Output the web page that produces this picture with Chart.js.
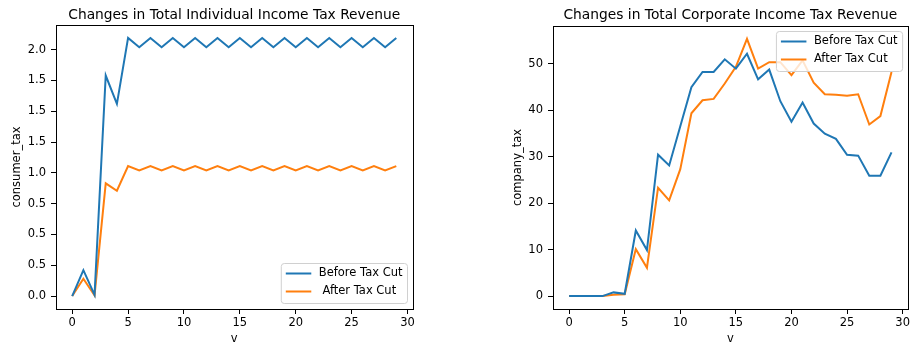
<!DOCTYPE html>
<html>
<head>
<meta charset="utf-8">
<script src="https://cdn.jsdelivr.net/npm/chart.js@4/dist/chart.umd.min.js"></script>
<style>
  html, body { margin: 0; padding: 0; background: #fff; overflow: hidden; }
  #wrap { position: relative; width: 912px; height: 349px; background: #fff; }
  canvas { position: absolute; top: 0; }
</style>
</head>
<body>
<div id="wrap">
  <canvas id="individual" width="470" height="349" style="left:0"></canvas>
  <canvas id="corporate" width="442" height="349" style="left:470px"></canvas>
</div>
<script>
// Simulation periods (x axis "v")
const periods = [0, 1, 2, 3, 4, 5, 6, 7, 8, 9, 10, 11, 12, 13, 14, 15, 16, 17, 18, 19, 20, 21, 22, 23, 24, 25, 26, 27, 28, 29];

// Individual income tax revenue
const individualBefore = [0, 0.21, 0.01, 1.79, 1.56, 2.095, 2.02, 2.095, 2.02, 2.095,
  2.02, 2.095, 2.02, 2.095, 2.02, 2.095, 2.02, 2.095, 2.02, 2.095,
  2.02, 2.095, 2.02, 2.095, 2.02, 2.095, 2.02, 2.095, 2.02, 2.095];
const individualAfter = [0, 0.14, 0.005, 0.915, 0.855, 1.055, 1.02, 1.055, 1.02, 1.055,
  1.02, 1.055, 1.02, 1.055, 1.02, 1.055, 1.02, 1.055, 1.02, 1.055,
  1.02, 1.055, 1.02, 1.055, 1.02, 1.055, 1.02, 1.055, 1.02, 1.055];

// Corporate income tax revenue
const corporateBefore = [0, 0, 0, 0, 0.8, 0.5, 14.1, 9.9, 30.4, 28.1,
  36.5, 44.9, 48.2, 48.2, 50.9, 48.9, 52.1, 46.6, 48.7, 41.9,
  37.5, 41.6, 37.1, 34.9, 33.8, 30.4, 30.2, 25.9, 25.9, 30.9];
const corporateAfter = [0, 0, 0, 0, 0.3, 0.4, 10.1, 6.1, 23.3, 20.6,
  27.3, 39.3, 42.1, 42.4, 45.7, 49.3, 55.3, 48.9, 50.3, 50.3,
  47.5, 50.7, 45.9, 43.4, 43.3, 43.1, 43.4, 36.9, 38.7, 48.2];

// Tick values and their labels
const xTickValues = [0, 5, 10, 15, 20, 25, 30];
const xTickLabels = ['0', '5', '10', '15', '20', '25', '30'];
const individualTickValues = [0, 0.25, 0.5, 0.75, 1.0, 1.25, 1.5, 1.75, 2.0];
const individualTickLabels = ['0.0', '0.5', '0.5', '0.5', '1.0', '1.5', '1.5', '1.5', '2.0'];
const corporateTickValues = [0, 10, 20, 30, 40, 50];
const corporateTickLabels = ['0', '10', '20', '30', '40', '50'];

const BLUE = '#1f77b4';
const ORANGE = '#ff7f0e';
const FONT = '"DejaVu Sans", "Liberation Sans", sans-serif';
const TICK_SIZE = 11.5;

// Box around the plotting area
const framePlugin = {
  id: 'frame',
  afterDraw(chart) {
    const { ctx, chartArea: a } = chart;
    ctx.save();
    ctx.strokeStyle = '#000';
    ctx.lineWidth = 1;
    const l = Math.round(a.left) + 0.5, t = Math.round(a.top) + 0.5;
    ctx.strokeRect(l, t, Math.round(a.right) - Math.round(a.left), Math.round(a.bottom) - Math.round(a.top));
    ctx.restore();
  }
};

// Title centred over the plotting area
const panelTitle = {
  id: 'panelTitle',
  afterDraw(chart, args, opts) {
    const { ctx, chartArea: a } = chart;
    ctx.save();
    ctx.font = `13.8px ${FONT}`;
    ctx.fillStyle = '#000';
    ctx.textAlign = 'center';
    ctx.textBaseline = 'alphabetic';
    ctx.fillText(opts.text, (a.left + a.right) / 2, opts.y);
    ctx.restore();
  }
};

// Legend drawn inside the plotting area
const insetLegend = {
  id: 'insetLegend',
  afterDraw(chart, args, opts) {
    const { ctx, chartArea: a } = chart;
    ctx.save();
    ctx.font = `${TICK_SIZE}px ${FONT}`;
    const sets = chart.data.datasets;
    const textW = Math.max(...sets.map(d => ctx.measureText(d.label).width));
    const w = 4.5 + 25.5 + 7.5 + textW + 5;
    const h = 40;
    const x = a.right - 5 - w;
    const y = opts.corner === 'upper' ? a.top + 5.5 : a.bottom - 5.5 - h;
    const r = 3;
    ctx.beginPath();
    ctx.moveTo(x + r, y);
    ctx.lineTo(x + w - r, y);
    ctx.arcTo(x + w, y, x + w, y + r, r);
    ctx.lineTo(x + w, y + h - r);
    ctx.arcTo(x + w, y + h, x + w - r, y + h, r);
    ctx.lineTo(x + r, y + h);
    ctx.arcTo(x, y + h, x, y + h - r, r);
    ctx.lineTo(x, y + r);
    ctx.arcTo(x, y, x + r, y, r);
    ctx.closePath();
    ctx.fillStyle = 'rgba(255,255,255,0.8)';
    ctx.fill();
    ctx.strokeStyle = '#d0d0d0';
    ctx.lineWidth = 1;
    ctx.stroke();
    sets.forEach((d, i) => {
      const cy = y + 10 + i * 18;
      ctx.strokeStyle = d.borderColor;
      ctx.lineWidth = 2;
      ctx.beginPath();
      ctx.moveTo(x + 4.5, cy);
      ctx.lineTo(x + 30, cy);
      ctx.stroke();
      ctx.fillStyle = '#000';
      ctx.textAlign = 'left';
      ctx.textBaseline = 'middle';
      ctx.fillText(d.label, x + 37.5, cy);
    });
    ctx.restore();
  }
};

function series(label, values, color) {
  return {
    label,
    data: periods.map((p, i) => ({ x: p, y: values[i] })),
    borderColor: color,
    backgroundColor: color,
    borderWidth: 2,
    pointRadius: 0,
    pointHoverRadius: 0,
    tension: 0,
    fill: false
  };
}

const tickGrid = { display: true, drawOnChartArea: false, drawTicks: true, tickLength: 5, color: '#000', lineWidth: 1 };

function makeChart(id, cfg) {
  return new Chart(document.getElementById(id), {
    type: 'line',
    data: {
      datasets: [
        series('Before Tax Cut', cfg.before, BLUE),
        series(cfg.afterLabel, cfg.after, ORANGE)
      ]
    },
    options: {
      responsive: false,
      animation: false,
      events: [],
      layout: { padding: cfg.padding },
      scales: {
        x: {
          type: 'linear',
          min: -1.45,
          max: 30.45,
          afterBuildTicks: s => { s.ticks = xTickValues.map(v => ({ value: v })); },
          afterFit: s => { s.height = 40; },
          grid: tickGrid,
          border: { display: false },
          ticks: {
            font: { family: FONT, size: TICK_SIZE },
            color: '#000',
            padding: 2,
            maxRotation: 0,
            autoSkip: false,
            callback: (v, i) => xTickLabels[i]
          },
          title: {
            display: true,
            text: 'v',
            color: '#000',
            font: { family: FONT, size: TICK_SIZE },
            padding: { top: 0, bottom: 3.1 }
          }
        },
        y: {
          type: 'linear',
          min: cfg.yMin,
          max: cfg.yMax,
          afterBuildTicks: s => { s.ticks = cfg.tickValues.map(v => ({ value: v })); },
          afterFit: s => { s.width = cfg.yWidth; },
          grid: tickGrid,
          border: { display: false },
          ticks: {
            font: { family: FONT, size: TICK_SIZE },
            color: '#000',
            padding: 5,
            autoSkip: false,
            callback: (v, i) => cfg.tickLabels[i]
          },
          title: {
            display: true,
            text: cfg.yTitle,
            color: '#000',
            font: { family: FONT, size: TICK_SIZE },
            padding: { top: cfg.yTitlePad, bottom: 0 }
          }
        }
      },
      plugins: {
        legend: { display: false },
        tooltip: { enabled: false },
        panelTitle: { text: cfg.title, y: 18.5 },
        insetLegend: { corner: cfg.legendCorner }
      }
    },
    plugins: [framePlugin, panelTitle, insetLegend]
  });
}

makeChart('individual', {
  title: 'Changes in Total Individual Income Tax Revenue',
  before: individualBefore,
  after: individualAfter,
  afterLabel: ' After Tax Cut',
  yMin: -0.105,
  yMax: 2.2,
  tickValues: individualTickValues,
  tickLabels: individualTickLabels,
  yTitle: 'consumer_tax',
  yWidth: 56,
  yTitlePad: 10.1,
  padding: { left: 0, right: 57.5, top: 25, bottom: 0 },
  legendCorner: 'lower'
});

makeChart('corporate', {
  title: 'Changes in Total Corporate Income Tax Revenue',
  before: corporateBefore,
  after: corporateAfter,
  afterLabel: 'After Tax Cut',
  yMin: -2.77,
  yMax: 58.07,
  tickValues: corporateTickValues,
  tickLabels: corporateTickLabels,
  yTitle: 'company_tax',
  yWidth: 83,
  yTitlePad: 41.1,
  padding: { left: 0, right: 4, top: 26, bottom: 0 },
  legendCorner: 'upper'
});
</script>
</body>
</html>
